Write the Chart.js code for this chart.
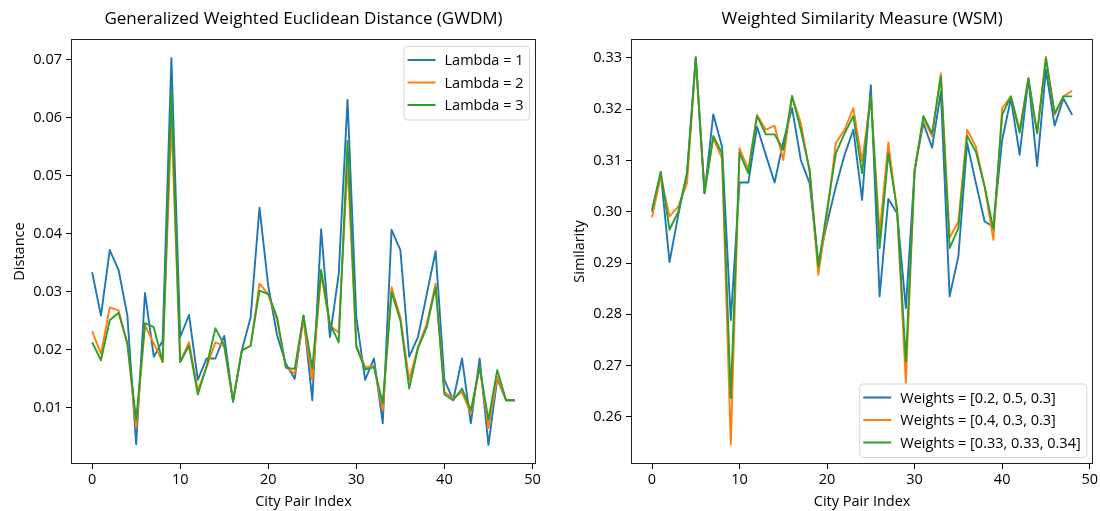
<!DOCTYPE html>
<html>
<head>
<meta charset="utf-8">
<script src="https://cdn.jsdelivr.net/npm/chart.js@4.4.1/dist/chart.umd.min.js"></script>
<style>
  html, body { margin: 0; padding: 0; background: #fff; overflow: hidden; }
  #left, #right { position: absolute; top: 0; height: 511px; }
  #left { left: 0; width: 550px; }
  #right { left: 560px; width: 540px; }
</style>
</head>
<body>
<div id="left"><canvas id="gwdm"></canvas></div>
<div id="right"><canvas id="wsm"></canvas></div>
<script>
// city pair index 0..48
const cityIndex = [];
for (let i = 0; i < 49; i++) cityIndex.push(i);

const xTicks = [0, 10, 20, 30, 40, 50];
const distTicks = [0.01, 0.02, 0.03, 0.04, 0.05, 0.06, 0.07];
const simTicks = [0.26, 0.27, 0.28, 0.29, 0.30, 0.31, 0.32, 0.33];

// GWDM distances
const lambda1 = [0.0334, 0.0259, 0.0372, 0.0338, 0.0259, 0.0037, 0.0298, 0.0188, 0.0215, 0.0703,
  0.0222, 0.0260, 0.0148, 0.0185, 0.0185, 0.0224, 0.0110, 0.0199, 0.0256, 0.0445,
  0.0310, 0.0225, 0.0176, 0.0150, 0.0259, 0.0113, 0.0408, 0.0222, 0.0331, 0.0631,
  0.0256, 0.0148, 0.0185, 0.0073, 0.0407, 0.0372, 0.0188, 0.0222, 0.0296, 0.0370,
  0.0148, 0.0113, 0.0185, 0.0073, 0.0185, 0.0036, 0.0150, 0.0113, 0.0113];
const lambda2 = [0.0232, 0.0193, 0.0273, 0.0268, 0.0211, 0.0065, 0.0242, 0.0211, 0.0179, 0.0595,
  0.0179, 0.0213, 0.0130, 0.0170, 0.0213, 0.0206, 0.0113, 0.0199, 0.0207, 0.0314,
  0.0296, 0.0251, 0.0170, 0.0159, 0.0251, 0.0148, 0.0331, 0.0242, 0.0230, 0.0520,
  0.0207, 0.0170, 0.0172, 0.0096, 0.0308, 0.0256, 0.0148, 0.0205, 0.0245, 0.0314,
  0.0127, 0.0116, 0.0127, 0.0090, 0.0170, 0.0065, 0.0153, 0.0113, 0.0113];
const lambda3 = [0.0213, 0.0182, 0.0251, 0.0264, 0.0211, 0.0079, 0.0246, 0.0239, 0.0179, 0.0645,
  0.0179, 0.0207, 0.0123, 0.0172, 0.0237, 0.0208, 0.0111, 0.0199, 0.0207, 0.0302,
  0.0296, 0.0256, 0.0169, 0.0167, 0.0259, 0.0167, 0.0338, 0.0245, 0.0213, 0.0560,
  0.0205, 0.0166, 0.0170, 0.0108, 0.0299, 0.0251, 0.0133, 0.0203, 0.0239, 0.0308,
  0.0123, 0.0113, 0.0133, 0.0096, 0.0170, 0.0079, 0.0165, 0.0113, 0.0113];

// WSM similarities
const weightsA = [0.3000, 0.3076, 0.2902, 0.2994, 0.3075, 0.3299, 0.3036, 0.3190, 0.3127, 0.2789,
  0.3057, 0.3057, 0.3166, 0.3111, 0.3057, 0.3136, 0.3202, 0.3101, 0.3056, 0.2900,
  0.2978, 0.3049, 0.3111, 0.3160, 0.3023, 0.3247, 0.2835, 0.3025, 0.2997, 0.2812,
  0.3082, 0.3173, 0.3125, 0.3234, 0.2835, 0.2913, 0.3134, 0.3056, 0.2981, 0.2971,
  0.3140, 0.3221, 0.3111, 0.3260, 0.3089, 0.3277, 0.3168, 0.3221, 0.3189];
const weightsB = [0.2989, 0.3069, 0.2991, 0.3010, 0.3056, 0.3299, 0.3039, 0.3143, 0.3104, 0.2546,
  0.3124, 0.3082, 0.3189, 0.3160, 0.3168, 0.3101, 0.3225, 0.3173, 0.3078, 0.2877,
  0.2994, 0.3134, 0.3160, 0.3202, 0.3098, 0.3225, 0.2958, 0.3135, 0.3000, 0.2666,
  0.3082, 0.3182, 0.3147, 0.3270, 0.2949, 0.2981, 0.3160, 0.3127, 0.3049, 0.2945,
  0.3202, 0.3225, 0.3160, 0.3260, 0.3153, 0.3302, 0.3189, 0.3225, 0.3236];
const weightsC = [0.3004, 0.3078, 0.2965, 0.3000, 0.3075, 0.3302, 0.3036, 0.3148, 0.3114, 0.2637,
  0.3115, 0.3075, 0.3187, 0.3151, 0.3151, 0.3121, 0.3226, 0.3160, 0.3082, 0.2893,
  0.3004, 0.3114, 0.3153, 0.3187, 0.3075, 0.3225, 0.2929, 0.3114, 0.3004, 0.2708,
  0.3078, 0.3187, 0.3153, 0.3264, 0.2929, 0.2968, 0.3148, 0.3117, 0.3049, 0.2966,
  0.3189, 0.3225, 0.3154, 0.3260, 0.3153, 0.3299, 0.3192, 0.3225, 0.3225];

const FONT = '"Open Sans", "Noto Sans", sans-serif';
const colors = ["#1f77b4", "#ff7f0e", "#2ca02c"];

// frame, title and matplotlib-ish legend
const plotDecor = {
  id: "plotDecor",
  afterDatasetsDraw(chart, args, opts) {
    const ctx = chart.ctx;
    const a = chart.chartArea;
    ctx.save();
    // spines
    ctx.strokeStyle = "#222";
    ctx.lineWidth = 1;
    ctx.strokeRect(Math.round(a.left) + 0.5, Math.round(a.top) + 0.5,
      Math.round(a.right - a.left) - 1, Math.round(a.bottom - a.top) - 1);

    // title
    ctx.fillStyle = "#000";
    ctx.font = "17px " + FONT;
    ctx.textAlign = "center";
    ctx.textBaseline = "middle";
    ctx.fillText(opts.title, (a.left + a.right) / 2, 19);

    // legend
    const sets = chart.data.datasets;
    ctx.font = "14.5px " + FONT;
    ctx.textAlign = "left";
    const textW = Math.max(...sets.map(d => ctx.measureText(d.label).width));
    const rowH = 22.5;
    const w = 3.5 + 28 + 9 + textW + 6;
    const h = sets.length * rowH + 6;
    const x = a.right - 7 - w;
    const y = opts.corner === "top" ? a.top + 7 : a.bottom - 7 - h;
    ctx.beginPath();
    ctx.roundRect(x + 0.5, y + 0.5, w, h, 3);
    ctx.fillStyle = "rgba(255,255,255,0.8)";
    ctx.fill();
    ctx.strokeStyle = "#d6d6d6";
    ctx.stroke();
    sets.forEach((d, i) => {
      const cy = y + 14 + i * rowH;
      ctx.beginPath();
      ctx.moveTo(x + 4, cy);
      ctx.lineTo(x + 32, cy);
      ctx.strokeStyle = d.borderColor;
      ctx.lineWidth = 2;
      ctx.stroke();
      ctx.fillStyle = "#000";
      ctx.fillText(d.label, x + 41, cy + 1);
    });
    ctx.restore();
  }
};

function series(label, values, i) {
  return {
    label: label,
    data: cityIndex.map((c, k) => ({ x: c, y: values[k] })),
    borderColor: colors[i],
    backgroundColor: colors[i],
    borderWidth: 1.9,
    borderJoinStyle: "round",
    pointRadius: 0,
    tension: 0,
    fill: false,
    order: 2 - i
  };
}

function makeChart(id, title, yTitle, yMin, yMax, yTicks, datasets, corner, padRight) {
  return new Chart(document.getElementById(id), {
    type: "line",
    data: { datasets: datasets },
    plugins: [plotDecor],
    options: {
      responsive: true,
      maintainAspectRatio: false,
      animation: false,
      layout: { padding: { top: 39, left: 0, right: padRight, bottom: 0 } },
      plugins: {
        legend: { display: false },
        tooltip: { enabled: false },
        plotDecor: { title: title, corner: corner }
      },
      scales: {
        x: {
          type: "linear",
          min: -2.4,
          max: 50.4,
          afterBuildTicks: s => { s.ticks = xTicks.map(v => ({ value: v })); },
          afterFit: s => { s.height = 47; },
          ticks: { color: "#000", font: { family: FONT, size: 14.5 }, padding: 2,
            maxRotation: 0, autoSkip: false, callback: v => String(v) },
          grid: { drawOnChartArea: false, drawTicks: true, tickLength: 5, color: "#000" },
          border: { display: false },
          title: { display: true, text: "City Pair Index", color: "#000",
            font: { family: FONT, size: 14.5 }, padding: { top: 0, bottom: 0 } }
        },
        y: {
          type: "linear",
          min: yMin,
          max: yMax,
          afterBuildTicks: s => { s.ticks = yTicks.map(v => ({ value: v })); },
          afterFit: s => { s.width = 71; },
          ticks: { color: "#000", font: { family: FONT, size: 14.5 }, padding: 4,
            autoSkip: false, callback: v => v.toFixed(2) },
          grid: { drawOnChartArea: false, drawTicks: true, tickLength: 5, color: "#000" },
          border: { display: false },
          title: { display: true, text: yTitle, color: "#000",
            font: { family: FONT, size: 14.5 }, padding: { top: 11, bottom: 0 } }
        }
      }
    }
  });
}

makeChart("gwdm", "Generalized Weighted Euclidean Distance (GWDM)", "Distance",
  0.0003, 0.0736, distTicks,
  [series("Lambda = 1", lambda1, 0), series("Lambda = 2", lambda2, 1), series("Lambda = 3", lambda3, 2)],
  "top", 14);

makeChart("wsm", "Weighted Similarity Measure (WSM)", "Similarity",
  0.2508, 0.3337, simTicks,
  [series("Weights = [0.2, 0.5, 0.3]", weightsA, 0),
   series("Weights = [0.4, 0.3, 0.3]", weightsB, 1),
   series("Weights = [0.33, 0.33, 0.34]", weightsC, 2)],
  "bottom", 4);
</script>
</body>
</html>
